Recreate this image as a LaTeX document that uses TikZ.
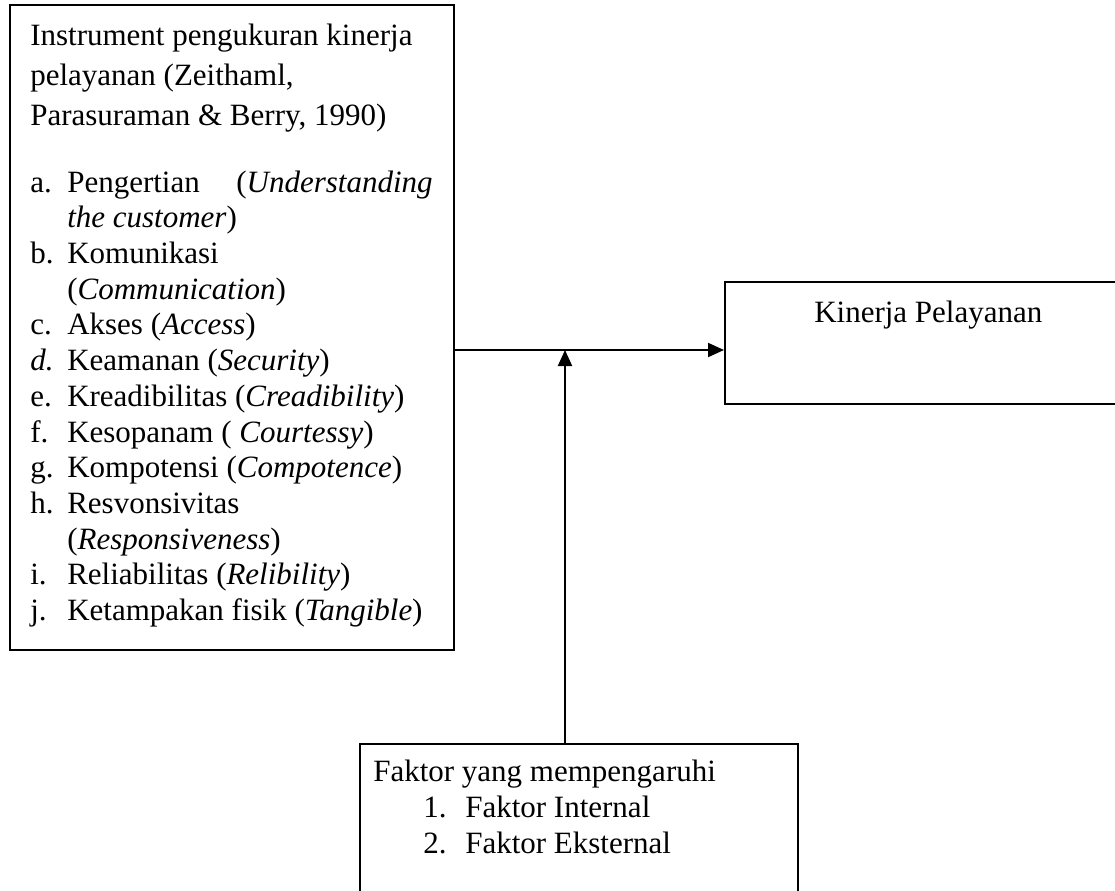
\documentclass[tikz,border=0pt]{standalone}
\usepackage{fontspec}
\setmainfont{Liberation Serif}
\usetikzlibrary{arrows.meta}
\begin{document}
\begin{tikzpicture}[x=0.75pt,y=-0.75pt,
  box/.style={draw,line width=1.5pt,inner sep=0pt},
  lbl/.style={anchor=base west,inner sep=0pt,font=\fontsize{23.25}{27}\selectfont},
  num/.style={anchor=base east,inner sep=0pt,font=\fontsize{23.25}{27}\selectfont},
  arr/.style={line width=1.5pt,-{Triangle[length=12pt,width=10.5pt]}}]
\useasboundingbox (0,0) rectangle (1115,890);

\node[box,minimum width=333pt,minimum height=483.75pt] (instr) at (232,327.5) {}; %left
\node[box,minimum width=303.75pt,minimum height=91.5pt] (kinerja) at (927.5,343) {}; %right
\node[box,minimum width=328.5pt,minimum height=117pt] (faktor) at (579,822) {}; %bottom

\coordinate (join) at (565,350);
\draw[arr] (instr.east |- join) -- (kinerja.west |- join);
\draw[arr] (faktor.north -| join) -- (join);

% left box
\node[lbl] (h1) at (30,45) {Instrument pengukuran kinerja};
\node[lbl] (h2) at (30,85) {pelayanan (Zeithaml,};
\node[lbl] (h3) at (30,125) {Parasuraman \& Berry, 1990)};

\node[lbl] (la) at (30,192) {a.};
\node[lbl] (ia) at (67,192) {Pengertian};
\node[num] (ia2) at (433,192) {(\textit{Understanding}};
\node[lbl] (ia3) at (67,227.7) {\textit{the customer})};
\node[lbl] (lb) at (30,263.4) {b.};
\node[lbl] (ib) at (67,263.4) {Komunikasi};
\node[lbl] (ib2) at (67,299) {(\textit{Communication})};
\node[lbl] (lc) at (30,334.8) {c.};
\node[lbl] (ic) at (67,334.8) {Akses (\textit{Access})};
\node[lbl] (ld) at (30,370.5) {\textit{d.}};
\node[lbl] (id) at (67,370.5) {Keamanan (\textit{Security})};
\node[lbl] (le) at (30,406) {e.};
\node[lbl] (ie) at (67,406) {Kreadibilitas (\textit{Creadibility})};
\node[lbl] (lf) at (30,442) {f.};
\node[lbl] (if) at (67,442) {Kesopanam ( \textit{Courtessy})};
\node[lbl] (lg) at (30,477.6) {g.};
\node[lbl] (ig) at (67,477.6) {Kompotensi (\textit{Compotence})};
\node[lbl] (lh) at (30,513.3) {h.};
\node[lbl] (ih) at (67,513.3) {Resvonsivitas};
\node[lbl] (ih2) at (67,549) {(\textit{Responsiveness})};
\node[lbl] (li) at (30,584.7) {i.};
\node[lbl] (ii) at (67,584.7) {Reliabilitas (\textit{Relibility})};
\node[lbl] (lj) at (30,620.4) {j.};
\node[lbl] (ij) at (67,620.4) {Ketampakan fisik (\textit{Tangible})};

% right box
\node[lbl] (k1) at (814,322) {Kinerja Pelayanan};

% bottom box
\node[lbl] (f1) at (373,781) {Faktor yang mempengaruhi};
\node[num] (n1) at (447,817) {1.};
\node[lbl] (f2) at (465,817) {Faktor Internal};
\node[num] (n2) at (447,853) {2.};
\node[lbl] (f3) at (465,853) {Faktor Eksternal};
\end{tikzpicture}
\end{document}
